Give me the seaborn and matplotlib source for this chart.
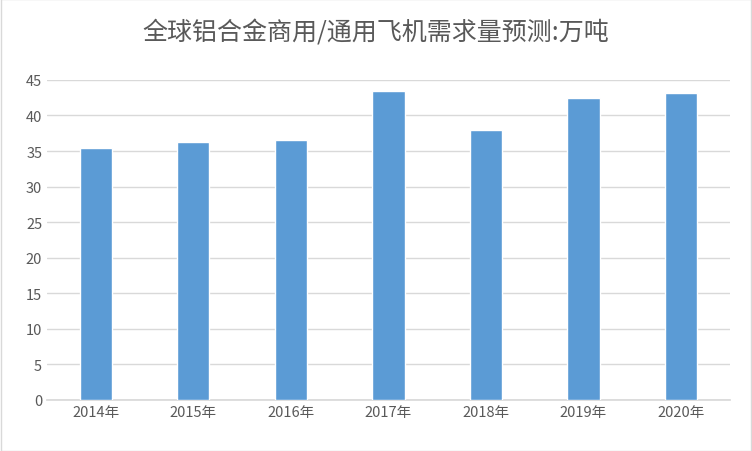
import matplotlib
matplotlib.use("Agg")
import matplotlib.pyplot as plt
import seaborn as sns
import pandas as pd

years = ["2014年", "2015年", "2016年", "2017年", "2018年", "2019年", "2020年"]
values = [35.4, 36.2, 36.6, 43.5, 37.9, 42.5, 43.2]
title = "全球铝合金商用/通用飞机需求量预测:万吨"

sns.set_theme(style="white")
plt.rcParams['font.family'] = ['Noto Sans CJK SC', 'DejaVu Sans']

fig = plt.figure(figsize=(7.52, 4.52), dpi=100)
ax = fig.add_axes([0.0625, 0.113, 0.908, 0.708])
df = pd.DataFrame({"year": years, "value": values})
sns.barplot(data=df, x="year", y="value", color="#5B9BD5", saturation=1, width=0.33, ax=ax, zorder=3)
ax.set_ylim(0, 45)
ax.set_yticks(range(0, 46, 5))
ax.yaxis.grid(True, color="#D9D9D9", linewidth=1, zorder=0)
ax.set_xlabel("")
ax.set_ylabel("")
for s in ["top", "right", "left"]:
    ax.spines[s].set_visible(False)
ax.spines["bottom"].set_color("#D9D9D9")
ax.tick_params(axis="both", length=0, labelsize=10.5, colors="#595959")
fig.text(0.5, 0.925, title, ha="center", va="center", fontsize=18, color="#595959")
fig.patches.append(plt.Rectangle((0.001, 0.001), 0.998, 0.998, transform=fig.transFigure,
                                 fill=False, edgecolor="#D9D9D9", linewidth=1))
fig.savefig("out.png", dpi=100)
